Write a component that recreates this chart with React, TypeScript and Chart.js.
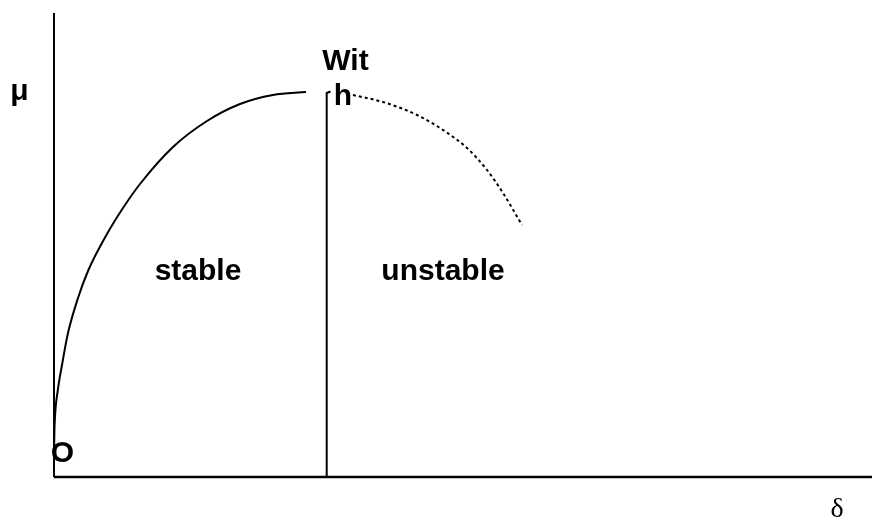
import React, { useEffect, useRef } from "react";
import { Chart, registerables } from "chart.js";

Chart.register(...registerables);

// (x = δ offset, y = μ offset; origin at O)
const deltaStable = [0, 0.3, 1, 3.7, 8, 14, 24, 34, 53, 69, 86, 119, 153, 186, 219, 252];
const muStable = [15, 40, 60, 86, 112, 144, 179, 206, 243, 269, 293, 330, 356, 373, 382, 385];

const deltaUnstable = [299, 329, 363, 389, 413, 433, 449, 468];
const muUnstable = [382, 375, 362, 347, 329, 307, 284, 252];

const deltaBoundary = [272.7, 272.7, 276.5];
const muBoundary = [0, 384, 385.5];

const deltaMax = 818;
const muMax = 464;

const axisLabels = ["μ", "δ", "O"];
const regionLabels = ["stable", "unstable"];
const boundaryLabel = ["Wit", "h"];

const zip = (xs: number[], ys: number[]) => xs.map((x, i) => ({ x, y: ys[i] }));

export default function App() {
  const ref = useRef<HTMLCanvasElement | null>(null);

  useEffect(() => {
    if (!ref.current) return;
    const textPlugin = {
      id: "textLabels",
      afterDatasetsDraw(chart: any) {
        const { ctx, scales } = chart;
        const px = (v: number) => scales.x.getPixelForValue(v);
        const py = (v: number) => scales.y.getPixelForValue(v);
        const bold = "bold 30px 'Liberation Sans', Arial, sans-serif";
        const items: { t: string; x: number; y: number; font: string }[] = [
          { t: axisLabels[0], x: -34.5, y: 377, font: bold },
          { t: axisLabels[1], x: 783, y: -40, font: "28px 'Liberation Serif', 'Times New Roman', serif" },
          { t: axisLabels[2], x: 8.5, y: 15, font: bold },
          { t: regionLabels[0], x: 144, y: 197, font: bold },
          { t: regionLabels[1], x: 389, y: 197, font: bold },
          { t: boundaryLabel[0], x: 291.5, y: 407, font: bold },
          { t: boundaryLabel[1], x: 289, y: 372, font: bold },
        ];
        ctx.save();
        ctx.fillStyle = "#000";
        ctx.textAlign = "center";
        ctx.textBaseline = "alphabetic";
        for (const it of items) {
          ctx.font = it.font;
          ctx.fillText(it.t, px(it.x), py(it.y));
        }
        ctx.restore();
      },
    };

    const chart = new Chart(ref.current, {
      type: "scatter",
      data: {
        datasets: [
          {
            data: [{ x: 0, y: 0 }, { x: 0, y: muMax }],
            showLine: true,
            borderColor: "#000",
            borderWidth: 2,
            pointRadius: 0,
            clip: false as any,
          },
          {
            data: [{ x: 0, y: 0 }, { x: deltaMax, y: 0 }],
            showLine: true,
            borderColor: "#000",
            borderWidth: 2.5,
            pointRadius: 0,
            clip: false as any,
          },
          {
            data: zip(deltaStable, muStable),
            showLine: true,
            borderColor: "#000",
            borderWidth: 2,
            pointRadius: 0,
            cubicInterpolationMode: "monotone",
            clip: false as any,
          },
          {
            data: zip(deltaBoundary, muBoundary),
            showLine: true,
            borderColor: "#000",
            borderWidth: 2,
            pointRadius: 0,
            tension: 0,
            clip: false as any,
          },
          {
            data: zip(deltaUnstable, muUnstable),
            showLine: true,
            borderColor: "#000",
            borderWidth: 2,
            borderDash: [3, 3],
            pointRadius: 0,
            cubicInterpolationMode: "monotone",
            clip: false as any,
          },
        ],
      },
      options: {
        animation: false,
        responsive: false,
        layout: { padding: { left: 54, right: 3, top: 13, bottom: 43 } },
        plugins: { legend: { display: false }, tooltip: { enabled: false } },
        scales: {
          x: { type: "linear", min: 0, max: deltaMax, display: false },
          y: { type: "linear", min: 0, max: muMax, display: false },
        },
      },
      plugins: [textPlugin],
    });
    return () => chart.destroy();
  }, []);

  return (
    <canvas
      ref={ref}
      width={875}
      height={520}
      style={{ position: "absolute", left: 0, top: 0, width: 875, height: 520, background: "#fff" }}
    />
  );
}
